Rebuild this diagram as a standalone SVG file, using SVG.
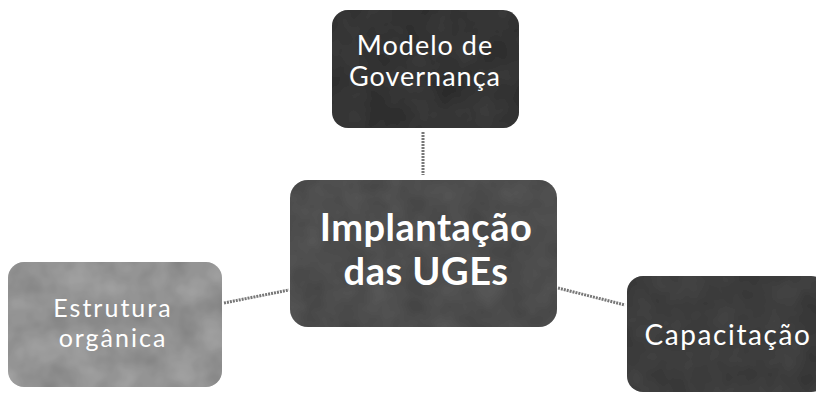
<svg xmlns="http://www.w3.org/2000/svg" width="816" height="396" viewBox="0 0 816 396">
<defs>
<style>
.t{font-family:"Lato","Liberation Sans",sans-serif;fill:#ffffff;text-anchor:middle}
.s{font-size:27px;letter-spacing:1px}
.l{font-size:25px;letter-spacing:2px}
.r{font-size:28px;letter-spacing:1.6px}
.b{font-size:38px;font-weight:bold;letter-spacing:0.5px}
.c{stroke:#777;stroke-width:3;stroke-dasharray:2 1;fill:none}
</style>
<filter id="tex" x="0" y="0" width="1" height="1">
<feTurbulence type="fractalNoise" baseFrequency="0.03" numOctaves="3" seed="4" result="n"/>
<feColorMatrix in="n" type="matrix" values="0 0 0 0 0  0 0 0 0 0  0 0 0 0 0  0 0 0 0.5 0" result="a"/>
<feComposite in="a" in2="SourceGraphic" operator="in" result="m"/>
<feMerge><feMergeNode in="SourceGraphic"/><feMergeNode in="m"/></feMerge>
</filter>
</defs>
<g id="connectors">
<line class="c" x1="423" y1="132" x2="423" y2="175"/>
<line class="c" x1="224" y1="303" x2="289" y2="290"/>
<line class="c" x1="558" y1="288" x2="625" y2="305"/>
</g>
<g id="node-governanca">
<rect x="332" y="10" width="187" height="118" rx="16" fill="#3c3c3c" filter="url(#tex)"/>
<text class="t s" x="425" y="55">Modelo de</text>
<text class="t s" x="425" y="86">Governança</text>
</g>
<g id="node-implantacao">
<rect x="290" y="180" width="267" height="147" rx="18" fill="#5a5a5a" filter="url(#tex)"/>
<text class="t b" x="426" y="241">Implantação</text>
<text class="t b" x="426" y="285">das UGEs</text>
</g>
<g id="node-estrutura">
<rect x="8" y="262" width="214" height="125" rx="16" fill="#a8a8a8" filter="url(#tex)"/>
<text class="t l" x="113" y="317">Estrutura</text>
<text class="t l" x="113" y="347">orgânica</text>
</g>
<g id="node-capacitacao">
<rect x="627" y="276" width="200" height="116" rx="16" fill="#474747" filter="url(#tex)"/>
<text class="t r" x="728" y="345">Capacitação</text>
</g>
</svg>
